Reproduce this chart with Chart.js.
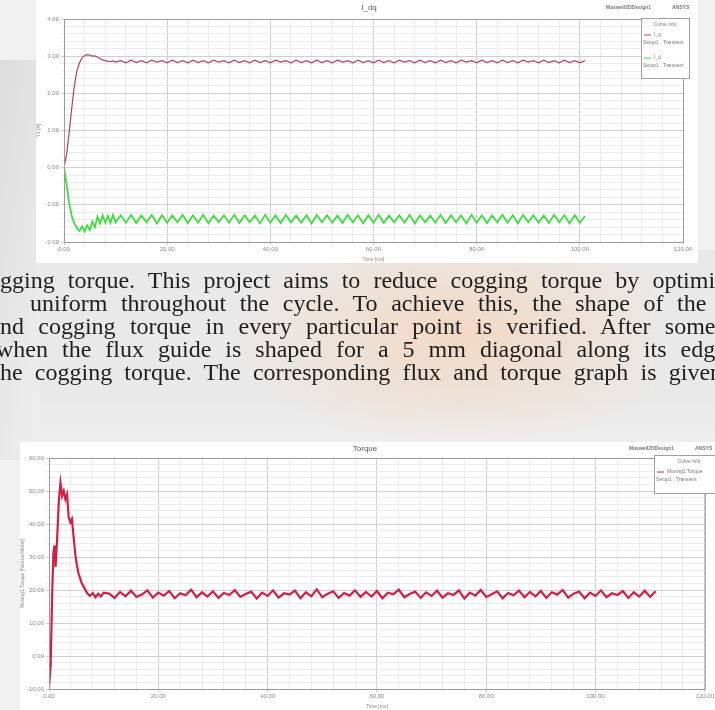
<!DOCTYPE html>
<html>
<head>
<meta charset="utf-8">
<script src="https://cdn.jsdelivr.net/npm/chart.js@4.4.1/dist/chart.umd.min.js"></script>
<style>
  html, body { margin: 0; padding: 0; width: 715px; height: 710px; overflow: hidden; }
  body { position: relative; background: #f1f1f1; font-family: "Liberation Serif", "Times New Roman", serif; }
  .wm { position: absolute; pointer-events: none; }
  .box { position: absolute; background: #fff; }
  #boxTop { left: 36px; top: 0; width: 662px; height: 263px; }
  #boxBot { left: 20px; top: 442px; width: 695px; height: 268px; }
  canvas { display: block; filter: blur(0.35px); }
  .line { position: absolute; white-space: nowrap; font-size: 24px; line-height: 23px; color: #1e1e1e; filter: blur(0.3px); }
</style>
</head>
<body>
<div class="wm" style="left:0;top:250px;width:715px;height:200px;background:linear-gradient(180deg, #e9e9e9 0%, #e9e9e9 75%, #efefef 100%);"></div>
<div class="wm" style="left:230px;top:240px;width:420px;height:210px;background:radial-gradient(ellipse at 55% 45%, rgba(250,205,170,0.6), rgba(250,205,170,0) 70%);"></div>
<div class="wm" style="left:0;top:60px;width:40px;height:400px;background:linear-gradient(100deg, #dcdcdc, #efefef);"></div>
<div class="box" id="boxTop"><canvas id="chartIdq" width="662" height="263"></canvas></div>
<div class="box" id="boxBot"><canvas id="chartTorque" width="695" height="268"></canvas></div>
<div id="text"></div>
<script>
// ---- data ----
const timeIdq = [0, 0.5, 1, 1.5, 2, 2.5, 3, 3.5, 4, 4.5, 5, 5.5, 6, 6.5, 7, 7.5, 8, 8.5, 9, 9.5, 10,
  11, 12, 13, 14, 15, 16, 17, 18, 19, 20, 21, 22, 23, 24, 25, 26, 27, 28, 29, 30,
  31, 32, 33, 34, 35, 36, 37, 38, 39, 40, 41, 42, 43, 44, 45, 46, 47, 48, 49, 50,
  51, 52, 53, 54, 55, 56, 57, 58, 59, 60, 61, 62, 63, 64, 65, 66, 67, 68, 69, 70,
  71, 72, 73, 74, 75, 76, 77, 78, 79, 80, 81, 82, 83, 84, 85, 86, 87, 88, 89, 90,
  91, 92, 93, 94, 95, 96, 97, 98, 99, 100, 101, 102, 103, 104, 105, 106, 107, 108, 109, 110, 111];

const iqValues = [0, 0.35, 0.95, 1.6, 2.2, 2.6, 2.82, 2.95, 3.02, 3.04, 3.03, 3.0, 3.01, 2.97, 2.93, 2.9, 2.88, 2.86, 2.85, 2.87, 2.84,
  2.88, 2.82, 2.89, 2.83, 2.88, 2.82, 2.89, 2.84, 2.88, 2.82,
  2.89, 2.83, 2.88, 2.82, 2.89, 2.83, 2.88, 2.82, 2.89, 2.84,
  2.88, 2.82, 2.89, 2.83, 2.88, 2.82, 2.89, 2.83, 2.88, 2.82,
  2.89, 2.84, 2.88, 2.82, 2.89, 2.83, 2.88, 2.82, 2.89, 2.83,
  2.88, 2.82, 2.89, 2.84, 2.88, 2.82, 2.89, 2.83, 2.88, 2.82,
  2.89, 2.83, 2.88, 2.82, 2.89, 2.84, 2.88, 2.82, 2.89, 2.83,
  2.88, 2.82, 2.89, 2.83, 2.88, 2.82, 2.89, 2.84, 2.88, 2.82,
  2.89, 2.83, 2.88, 2.82, 2.89, 2.83, 2.88, 2.82, 2.89, 2.84,
  2.88, 2.82, 2.89, 2.83, 2.88, 2.82, 2.89, 2.83, 2.88, 2.82, 2.88];

const idValues = [0, -0.45, -0.95, -1.3, -1.5, -1.62, -1.7, -1.58, -1.72, -1.55, -1.68, -1.45, -1.6, -1.32, -1.5, -1.28, -1.48, -1.3, -1.49, -1.27, -1.47,
  -1.28, -1.48, -1.27, -1.49, -1.29, -1.47, -1.27, -1.5, -1.28, -1.48,
  -1.29, -1.47, -1.27, -1.49, -1.28, -1.48, -1.27, -1.5, -1.29, -1.47,
  -1.28, -1.48, -1.27, -1.49, -1.28, -1.47, -1.29, -1.5, -1.27, -1.48,
  -1.28, -1.49, -1.27, -1.47, -1.29, -1.48, -1.28, -1.5, -1.27, -1.47,
  -1.28, -1.48, -1.29, -1.49, -1.27, -1.47, -1.28, -1.5, -1.28, -1.48,
  -1.27, -1.49, -1.29, -1.47, -1.28, -1.48, -1.27, -1.5, -1.28, -1.47,
  -1.29, -1.48, -1.27, -1.49, -1.28, -1.47, -1.28, -1.5, -1.27, -1.48,
  -1.28, -1.49, -1.29, -1.47, -1.27, -1.48, -1.28, -1.5, -1.27, -1.47,
  -1.28, -1.48, -1.29, -1.49, -1.27, -1.47, -1.28, -1.5, -1.28, -1.48, -1.3];

const timeTorque = [0, 0.3, 0.6, 0.8, 1.0, 1.2, 1.5, 1.8, 2.1, 2.4, 2.7, 3.0, 3.3, 3.6, 3.9, 4.2, 4.5, 4.8, 5.1, 5.4, 5.7, 6.0, 6.5, 7.0, 7.5, 8.0, 8.5, 9.0, 9.5, 10,
  11, 12, 13, 14, 15, 16, 17, 18, 19, 20, 21, 22, 23, 24, 25, 26, 27, 28, 29, 30,
  31, 32, 33, 34, 35, 36, 37, 38, 39, 40, 41, 42, 43, 44, 45, 46, 47, 48, 49, 50,
  51, 52, 53, 54, 55, 56, 57, 58, 59, 60, 61, 62, 63, 64, 65, 66, 67, 68, 69, 70,
  71, 72, 73, 74, 75, 76, 77, 78, 79, 80, 81, 82, 83, 84, 85, 86, 87, 88, 89, 90,
  91, 92, 93, 94, 95, 96, 97, 98, 99, 100, 101, 102, 103, 104, 105, 106, 107, 108, 109, 110, 111];

const torqueValues = [-9.5, -3, 20, 31, 33.5, 27, 36, 47, 52.5, 48.5, 50, 47.5, 49, 42, 40.5, 41.5, 36, 31, 27.5, 25, 23.5, 22, 20.5, 19, 18.2, 19.1, 17.8, 18.9, 18, 19.2,
  18.9, 17.6, 19.4, 18.1, 19.8, 17.9, 18.6, 19.9, 17.7, 19.2,
  18.3, 19.7, 17.5, 19.0, 18.4, 20.1, 17.8, 19.3, 18.0, 19.6,
  17.6, 19.1, 18.5, 20.0, 17.9, 18.8, 19.5, 17.4, 19.2, 18.2,
  19.9, 17.7, 19.0, 18.6, 19.8, 17.5, 19.3, 18.1, 20.2, 17.8,
  18.9, 19.6, 17.6, 19.1, 18.3, 19.9, 17.9, 19.4, 18.0, 19.7,
  17.5, 19.2, 18.7, 20.1, 17.8, 18.8, 19.5, 17.6, 19.3, 18.2,
  19.8, 17.7, 19.0, 18.5, 19.9, 17.4, 19.2, 18.3, 20.0, 17.9,
  18.7, 19.6, 17.5, 19.1, 18.4, 19.8, 17.8, 19.4, 18.1, 19.7,
  17.6, 19.3, 18.6, 20.0, 17.7, 18.9, 19.5, 17.5, 19.2, 18.2,
  19.9, 17.8, 19.0, 18.5, 19.7, 17.6, 19.3, 18.0, 19.8, 17.9, 19.6];

const timeRange = [0, 120];
const idqRange = [-2, 4];
const torqueRange = [-10, 60];

const textLines = [
  { text: 'gging torque. This project aims to reduce cogging torque by optimi', left: 0, right: 715, y: 281 },
  { text: 'uniform throughout the cycle. To achieve this, the shape of the', left: 30, right: 706, y: 304 },
  { text: 'nd cogging torque in every particular point is verified. After some', left: 0, right: 715, y: 327 },
  { text: 'when the flux guide is shaped for a 5 mm diagonal along its edg', left: -4, right: 715, y: 350 },
  { text: 'he cogging torque. The corresponding flux and torque graph is given', left: 0, right: 722, y: 373 }
];

// ---- text lines (justified) ----
const textHost = document.getElementById('text');
textLines.forEach(l => {
  const div = document.createElement('div');
  div.className = 'line';
  div.textContent = l.text;
  div.style.left = l.left + 'px';
  div.style.top = (l.y - 12) + 'px';
  textHost.appendChild(div);
  const gaps = l.text.split(' ').length - 1;
  const extra = (l.right - l.left) - div.offsetWidth;
  div.style.wordSpacing = (extra / gaps) + 'px';
});

// ---- helpers ----
const isMultiple = (v, step) => Math.abs(v / step - Math.round(v / step)) < 1e-6;
const tickFont = { family: 'Arial, "Liberation Sans", sans-serif', size: 6 };

function gridFor(step) {
  return {
    color: ctx => (ctx.tick && isMultiple(ctx.tick.value, step)) ? '#cfcfcf' : '#ececec',
    tickLength: 3,
    drawTicks: true
  };
}

function headerPlugin(opts) {
  return {
    id: 'header_' + opts.title,
    afterDraw(chart) {
      const ctx = chart.ctx;
      const a = chart.chartArea;
      ctx.save();
      // plot border
      ctx.strokeStyle = '#9a9a9a';
      ctx.lineWidth = 1;
      ctx.strokeRect(a.left + 0.5, a.top + 0.5, a.right - a.left, a.bottom - a.top);
      // title
      ctx.fillStyle = '#555';
      ctx.textAlign = 'center';
      ctx.textBaseline = 'middle';
      ctx.font = '8px Arial, "Liberation Sans", sans-serif';
      ctx.fillText(opts.title, opts.titleX, opts.titleY);
      ctx.font = 'bold 5px Arial, "Liberation Sans", sans-serif';
      ctx.textAlign = 'left';
      ctx.fillStyle = '#777';
      ctx.fillText('Maxwell2DDesign1', opts.brandX, opts.titleY);
      ctx.fillText('ANSYS', opts.brandX + 66, opts.titleY);
      // legend box
      const lb = opts.legend;
      ctx.fillStyle = '#fff';
      ctx.fillRect(lb.x, lb.y, lb.w, lb.h);
      ctx.strokeStyle = '#a0a0a0';
      ctx.strokeRect(lb.x + 0.5, lb.y + 0.5, lb.w, lb.h);
      ctx.fillStyle = '#777';
      ctx.font = '5px Arial, "Liberation Sans", sans-serif';
      ctx.textAlign = 'center';
      ctx.fillText('Curve Info', lb.x + lb.w / 2, lb.y + 7);
      ctx.textAlign = 'left';
      lb.items.forEach(it => {
        ctx.strokeStyle = it.color;
        ctx.beginPath();
        ctx.moveTo(lb.x + 3, it.y);
        ctx.lineTo(lb.x + 10, it.y);
        ctx.stroke();
        ctx.fillStyle = '#777';
        ctx.fillText(it.name, lb.x + 13, it.y);
        ctx.fillText('Setup1 : Transient', lb.x + 2, it.y + 8);
      });
      ctx.restore();
    }
  };
}

// ---- I_dq chart ----
new Chart(document.getElementById('chartIdq'), {
  type: 'line',
  data: {
    datasets: [
      {
        label: 'I_q',
        data: timeIdq.map((t, i) => ({ x: t, y: iqValues[i] })),
        borderColor: '#b3405f',
        borderWidth: 1.2,
        pointRadius: 0,
        tension: 0
      },
      {
        label: 'I_d',
        data: timeIdq.map((t, i) => ({ x: t, y: idValues[i] })),
        borderColor: '#3fdc3f',
        borderWidth: 1.8,
        pointRadius: 0,
        tension: 0
      }
    ]
  },
  plugins: [headerPlugin({
    title: 'I_dq', titleX: 333, titleY: 8, brandX: 570,
    legend: { x: 605, y: 18, w: 48, h: 60, items: [
      { name: 'I_q', color: '#b3405f', y: 35 },
      { name: 'I_d', color: '#3fdc3f', y: 58 }
    ] }
  })],
  options: {
    responsive: false,
    animation: false,
    layout: { padding: { top: 19, right: 15, left: 0, bottom: 0 } },
    plugins: { legend: { display: false }, tooltip: { enabled: false } },
    scales: {
      x: {
        type: 'linear', min: timeRange[0], max: timeRange[1],
        afterFit: s => { s.height = 21; },
        ticks: { stepSize: 4, autoSkip: false, maxRotation: 0, font: tickFont, color: '#888', padding: 1,
          callback: v => isMultiple(v, 20) ? v.toFixed(2) : '' },
        grid: gridFor(20),
        border: { color: '#9a9a9a' },
        title: { display: true, text: 'Time [ms]', font: { size: 5 }, color: '#888', padding: 0 }
      },
      y: {
        min: idqRange[0], max: idqRange[1],
        afterFit: s => { s.width = 28; },
        ticks: { stepSize: 0.2, autoSkip: false, font: tickFont, color: '#888', padding: 2,
          callback: v => isMultiple(v, 1) ? v.toFixed(2) : '' },
        grid: gridFor(1),
        border: { color: '#9a9a9a' },
        title: { display: true, text: 'Y1 [A]', font: { size: 5 }, color: '#888', padding: 0 }
      }
    }
  }
});

// ---- Torque chart ----
new Chart(document.getElementById('chartTorque'), {
  type: 'line',
  data: {
    datasets: [{
      label: 'Moving1.Torque',
      data: timeTorque.map((t, i) => ({ x: t, y: torqueValues[i] })),
      borderColor: '#d21f45',
      borderWidth: 2.2,
      pointRadius: 0,
      tension: 0
    }]
  },
  plugins: [headerPlugin({
    title: 'Torque', titleX: 345, titleY: 7, brandX: 609,
    legend: { x: 634, y: 13, w: 70, h: 38, items: [
      { name: 'Moving1.Torque', color: '#d21f45', y: 30 }
    ] }
  })],
  options: {
    responsive: false,
    animation: false,
    layout: { padding: { top: 16, right: 6, left: 0, bottom: 0 } },
    plugins: { legend: { display: false }, tooltip: { enabled: false } },
    scales: {
      x: {
        type: 'linear', min: timeRange[0], max: timeRange[1],
        afterFit: s => { s.height = 21; },
        ticks: { stepSize: 4, autoSkip: false, maxRotation: 0, font: tickFont, color: '#888', padding: 1,
          callback: v => isMultiple(v, 20) ? v.toFixed(2) : '' },
        grid: gridFor(20),
        border: { color: '#9a9a9a' },
        title: { display: true, text: 'Time [ms]', font: { size: 5 }, color: '#888', padding: 0 }
      },
      y: {
        min: torqueRange[0], max: torqueRange[1],
        afterFit: s => { s.width = 29; },
        ticks: { stepSize: 2, autoSkip: false, font: tickFont, color: '#888', padding: 2,
          callback: v => isMultiple(v, 10) ? v.toFixed(2) : '' },
        grid: gridFor(10),
        border: { color: '#9a9a9a' },
        title: { display: true, text: 'Moving1.Torque [NewtonMeter]', font: { size: 5 }, color: '#888', padding: 0 }
      }
    }
  }
});
</script>
</body>
</html>
